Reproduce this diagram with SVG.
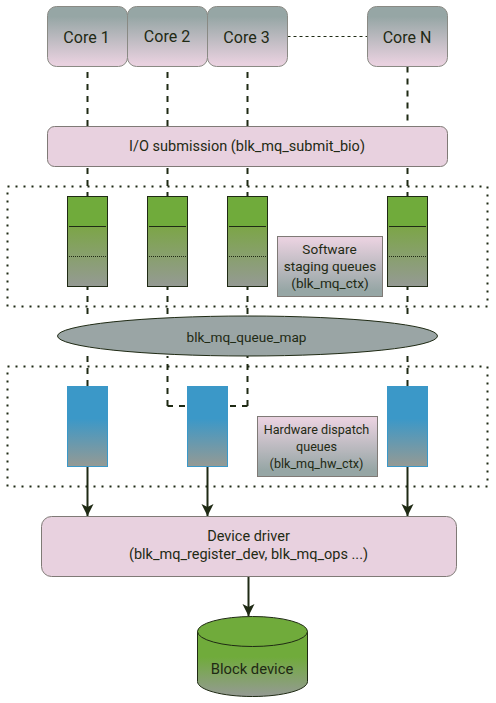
<svg xmlns="http://www.w3.org/2000/svg" width="496" height="703" viewBox="0 0 496 703">
<style>
text{font-family:Roboto,"Liberation Sans",sans-serif;font-size:14.500px;fill:#1f2a14;text-anchor:middle}
.c{font-size:16px}
.s{font-size:13.600px}
.h{font-size:12.600px}
.b{font-size:14.800px}
.core{fill:url(#coreG);stroke:#8a8a84;stroke-width:1}
.pink{fill:#e8d1df;stroke:#7f7a76;stroke-width:1}
.sw{fill:url(#greenG);stroke:#1f2a14;stroke-width:1}
.hw{fill:url(#blueG);stroke:#3b98c8;stroke-width:1}
.lab{fill:url(#labG);stroke:#7f7a76;stroke-width:1}
.dash{fill:none;stroke:#1f2a14;stroke-width:2;stroke-dasharray:6 6}
.dot{fill:none;stroke:#1f2a14;stroke-width:2;stroke-dasharray:2 6}
.thin{fill:none;stroke:#1f2a14;stroke-width:1}
.arrow{fill:none;stroke:#1f2a14;stroke-width:2;marker-end:url(#ah)}
</style>
<defs>
<linearGradient id="coreG" x1="0" y1="0" x2="0" y2="1"><stop offset="0.17" stop-color="#96a6a5"/><stop offset="0.95" stop-color="#e8d1df"/></linearGradient>
<linearGradient id="labG" x1="0" y1="0" x2="0" y2="1"><stop offset="0.05" stop-color="#e8d1df"/><stop offset="0.9" stop-color="#96a6a5"/></linearGradient>
<linearGradient id="greenG" x1="0" y1="0" x2="0" y2="1"><stop offset="0.33" stop-color="#70ab3b"/><stop offset="0.34" stop-color="#7ca548"/><stop offset="1" stop-color="#959a94"/></linearGradient>
<linearGradient id="blueG" x1="0" y1="0" x2="0" y2="1"><stop offset="0.4" stop-color="#3b98c8"/><stop offset="1" stop-color="#959a94"/></linearGradient>
<linearGradient id="cylG" x1="0" y1="0" x2="0" y2="1"><stop offset="0.39" stop-color="#70ab3b"/><stop offset="1" stop-color="#959a94"/></linearGradient>
<marker id="ah" markerUnits="userSpaceOnUse" markerWidth="14" markerHeight="14" refX="12" refY="6" orient="auto"><path d="M0 0L12 6L0 12L3 6Z" fill="#1f2a14"/></marker>
</defs>
<g id="connectors">
<path class="thin" d="M287.500 36.500H367.500" stroke-dasharray="3 3"/>
<path class="dash" d="M87.500 72V126M87.500 168V196M87.500 284V316M87.500 386V356"/>
<path class="dash" d="M167.500 72V126M167.500 168V196M167.500 284V316M167.500 406V356M167.500 406H173M179 406H187"/>
<path class="dash" d="M247.500 72V126M247.500 168V196M247.500 284V316M247.500 406V356M247.500 406H242M236 406H228"/>
<path class="dash" d="M407.500 66.500V126M407.500 168V196M407.500 284V316M407.500 386V356"/>
<path class="arrow" d="M87.500 466.500V516"/>
<path class="arrow" d="M207.500 466.500V516"/>
<path class="arrow" d="M407.500 466.500V516"/>
<path class="arrow" d="M248.500 576.500V616"/>
</g>
<g id="sw-region"><rect class="dot" x="7.500" y="186.500" width="480" height="120"/></g>
<g id="hw-region"><rect class="dot" x="7.500" y="366.500" width="480" height="120"/></g>
<g id="core1"><rect class="core" x="47.500" y="6.500" width="80" height="60" rx="9"/><text class="c" x="86.500" y="42.500">Core 1</text></g>
<g id="core2"><rect class="core" x="127.500" y="6.500" width="80" height="60" rx="9"/><text class="c" x="167" y="41.500">Core 2</text></g>
<g id="core3"><rect class="core" x="207.500" y="6.500" width="80" height="60" rx="9"/><text class="c" x="246.500" y="42.500">Core 3</text></g>
<g id="coreN"><rect class="core" x="367.500" y="6.500" width="80" height="60" rx="9"/><text class="c" x="407" y="42.500">Core N</text></g>
<g id="submission"><rect class="pink" x="47.500" y="126.500" width="400" height="40" rx="7"/><text x="247" y="150.500">I/O submission (blk_mq_submit_bio)</text></g>
<g id="swq1"><rect class="sw" x="67.500" y="196.500" width="40" height="90"/><path class="thin" d="M69 226.500H106"/><path class="thin" d="M69 256.500H106" stroke-dasharray="1 1"/></g>
<g id="swq2"><rect class="sw" x="147.500" y="196.500" width="40" height="90"/><path class="thin" d="M149 226.500H186"/><path class="thin" d="M149 256.500H186" stroke-dasharray="1 1"/></g>
<g id="swq3"><rect class="sw" x="227.500" y="196.500" width="40" height="90"/><path class="thin" d="M229 226.500H266"/><path class="thin" d="M229 256.500H266" stroke-dasharray="1 1"/></g>
<g id="swqN"><rect class="sw" x="387.500" y="196.500" width="40" height="90"/><path class="thin" d="M389 226.500H426"/><path class="thin" d="M389 256.500H426" stroke-dasharray="1 1"/></g>
<g id="sw-label"><rect class="lab" x="277.500" y="236.500" width="105" height="60"/><text class="s" x="329.500" y="254">Software</text><text class="s" x="330" y="271">staging queues</text><text class="s" x="330" y="288">(blk_mq_ctx)</text></g>
<g id="queue-map"><ellipse cx="247.500" cy="336" rx="190" ry="20" fill="#9aa5a5" stroke="#1f2a14" stroke-width="1"/><text class="s" x="246.500" y="341.500">blk_mq_queue_map</text></g>
<g id="hwq1"><rect class="hw" x="67.500" y="386.500" width="40" height="80"/></g>
<g id="hwq2"><rect class="hw" x="187.500" y="386.500" width="40" height="80"/></g>
<g id="hwqN"><rect class="hw" x="387.500" y="386.500" width="40" height="80"/></g>
<g id="hw-label"><rect class="lab" x="257.500" y="416.500" width="120" height="60"/><text class="h" x="316.500" y="434">Hardware dispatch</text><text class="h" x="316.500" y="451">queues</text><text class="h" x="316.500" y="468">(blk_mq_hw_ctx)</text></g>
<g id="driver"><rect class="pink" x="41.500" y="516.500" width="415" height="60" rx="10"/><text x="248.500" y="541">Device driver</text><text x="248.500" y="559">(blk_mq_register_dev, blk_mq_ops ...)</text></g>
<g id="block-device"><path d="M197.500 631.500V681.500C197.500 689.800 222 696.500 252.500 696.500S307.500 689.800 307.500 681.500V631.500" fill="url(#cylG)" stroke="#1f2a14" stroke-width="1"/><ellipse cx="252.500" cy="631.500" rx="55" ry="15" fill="#70ab3b" stroke="#1f2a14" stroke-width="1"/><text class="b" x="252" y="674">Block device</text></g>
</svg>
